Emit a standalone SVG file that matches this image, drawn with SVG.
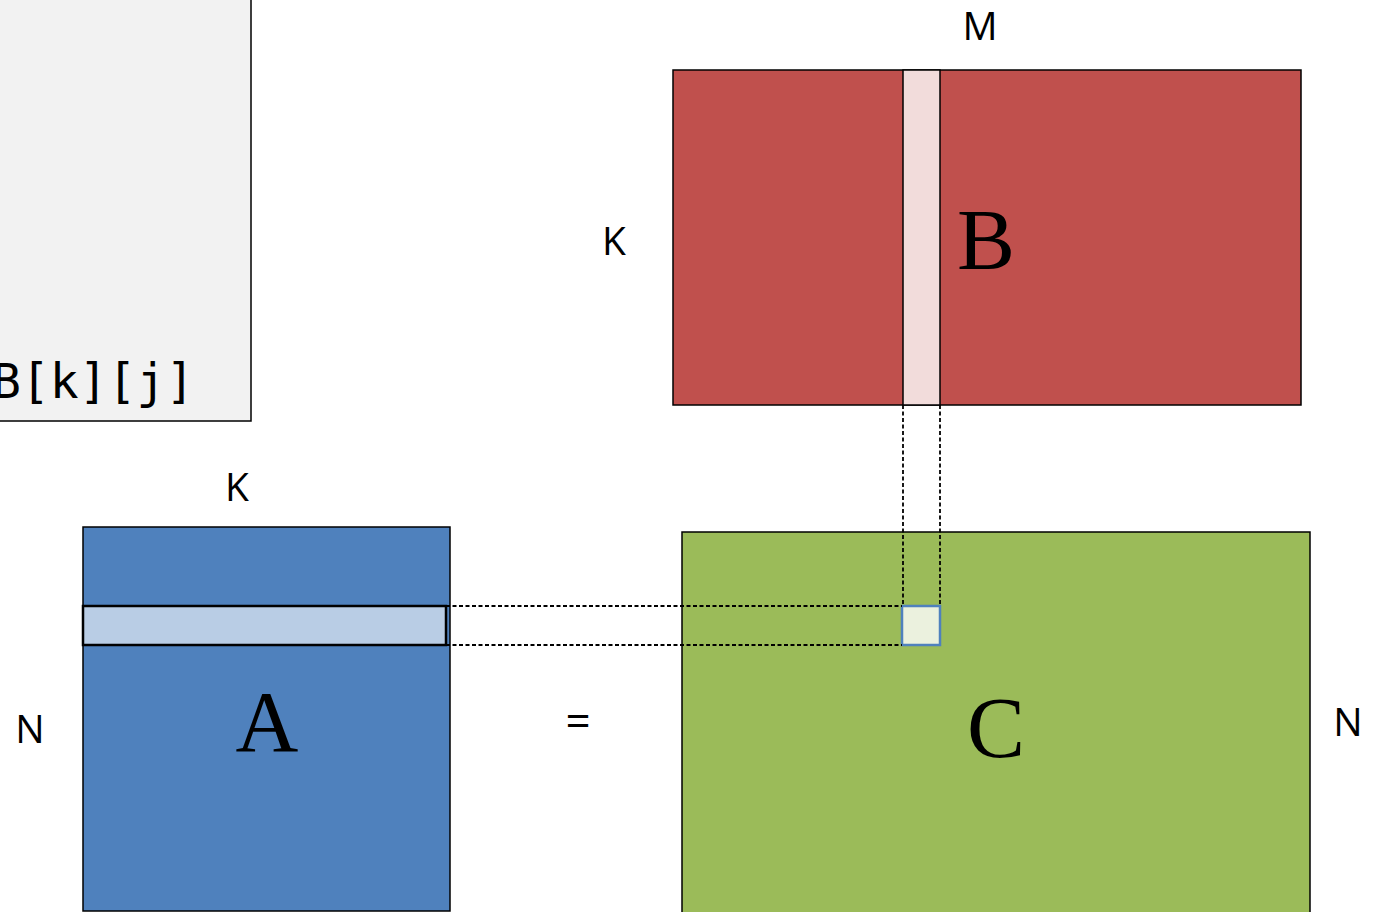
<svg xmlns="http://www.w3.org/2000/svg" width="1378" height="912" viewBox="0 0 1378 912">
<style>
.lbl{font-family:"Open Sans","Liberation Sans",sans-serif;font-size:39px;fill:#000;text-anchor:middle}
.big{font-family:"Liberation Serif","Times New Roman",serif;font-size:87px;fill:#000;text-anchor:middle}
.mat{stroke:#000;stroke-width:1.5}
.dash{fill:none;stroke:#000;stroke-width:1.8;stroke-dasharray:4 2.5}
</style>
<rect width="1378" height="912" fill="#fff"/>
<g id="code">
<rect x="-5" y="-5" width="256" height="426" fill="#f2f2f2" stroke="#000" stroke-width="1.5"/>
<text x="-8" y="398" font-family="DejaVu Sans Mono,monospace" font-size="48">B[k][j]</text>
</g>
<g id="matB">
<rect class="mat" x="673" y="70" width="628" height="335" fill="#c0504d"/>
<rect class="mat" x="903" y="70" width="37" height="335" fill="#f2dcdb"/>
<text class="big" x="986" y="269">B</text>
<text class="lbl" x="980" y="40">M</text>
<text class="lbl" x="614" y="255">K</text>
</g>
<g id="matA">
<rect class="mat" x="83" y="527" width="367" height="384" fill="#4f81bd"/>
<rect x="83" y="606" width="363" height="39" fill="#b9cde5" stroke="#000" stroke-width="2.5"/>
<text class="big" x="267" y="751">A</text>
<text class="lbl" x="237" y="501">K</text>
<text class="lbl" x="30" y="743">N</text>
</g>
<g id="eq">
<text class="lbl" x="578" y="737" style="font-size:44px">=</text>
</g>
<g id="matC">
<rect class="mat" x="682" y="532" width="628" height="390" fill="#9bbb59"/>
<rect x="902" y="606" width="38" height="39" fill="#ebf1de" stroke="#4f81bd" stroke-width="2.5"/>
<text class="big" x="996" y="757">C</text>
<text class="lbl" x="1348" y="736">N</text>
</g>
<g id="connectors">
<line class="dash" x1="903" y1="405" x2="903" y2="606"/>
<line class="dash" x1="940" y1="405" x2="940" y2="606"/>
<line class="dash" x1="446" y1="606" x2="902" y2="606"/>
<line class="dash" x1="446" y1="645" x2="902" y2="645"/>
</g>
</svg>
